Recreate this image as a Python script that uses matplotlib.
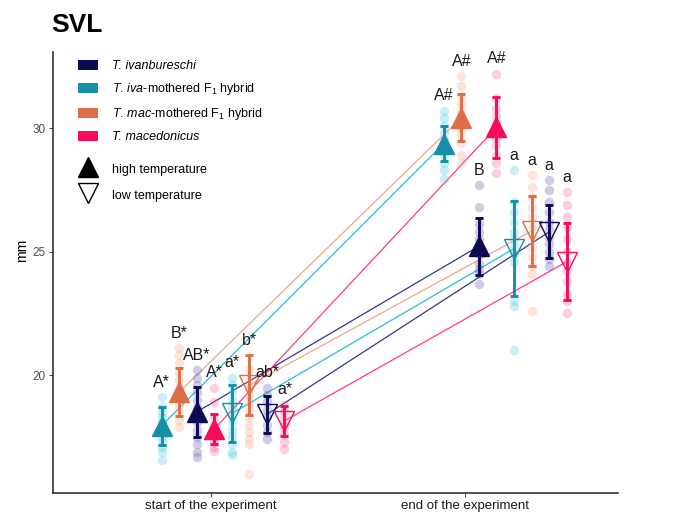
import matplotlib.pyplot as plt
from matplotlib.patches import Patch
from matplotlib.lines import Line2D
import numpy as np

plt.rcParams['font.family'] = ['Liberation Sans', 'DejaVu Sans']
plt.rcParams['mathtext.fontset'] = 'custom'
plt.rcParams['mathtext.rm'] = 'Liberation Sans'
plt.rcParams['mathtext.it'] = 'Liberation Sans:italic'

# grupos en el orden en que se dibujan dentro de cada momento
group_species = ["iva_hyb", "mac_hyb", "ivan", "mace", "iva_hyb", "mac_hyb", "ivan", "mace"]
group_temp = ["high", "high", "high", "high", "low", "low", "low", "low"]

mean_start = [17.95, 19.31, 18.51, 17.82, 18.45, 19.59, 18.41, 18.15]
sd_start = [0.78, 0.96, 1.01, 0.59, 1.15, 1.22, 0.74, 0.61]
mean_end = [29.37, 30.42, 25.22, 30.03, 25.12, 25.83, 25.80, 24.59]
sd_end = [0.70, 0.95, 1.16, 1.23, 1.91, 1.43, 1.07, 1.55]

letters_start = ["A*", "B*", "AB*", "A*", "a*", "b*", "ab*", "a*"]
letters_end = ["A#", "A#", "B", "A#", "a", "a", "a", "a"]

points_start = [
    [19.1, 18.7, 18.5, 18.3, 18.1, 17.9, 17.7, 17.5, 17.3, 17.1, 16.9, 16.55],
    [21.1, 20.8, 20.5, 20.1, 19.8, 19.5, 19.2, 18.8, 18.5, 18.2, 17.9],
    [20.2, 19.9, 19.6, 19.3, 19.0, 18.7, 18.4, 18.1, 17.8, 17.5, 17.2, 16.9, 16.7],
    [19.5, 18.9, 18.3, 18.0, 17.7, 17.5, 17.3, 17.1, 16.95],
    [19.9, 19.6, 19.3, 19.0, 18.7, 18.4, 18.1, 17.8, 17.5, 17.2, 16.9, 16.75],
    [20.2, 19.8, 19.5, 19.2, 18.9, 18.6, 18.3, 18.0, 17.7, 17.4, 17.2, 16.0],
    [19.5, 19.2, 18.9, 18.6, 18.3, 18.0, 17.7, 17.4],
    [18.8, 18.5, 18.2, 17.9, 17.6, 17.3, 17.0],
]
points_end = [
    [30.7, 30.4, 30.1, 29.8, 29.5, 29.2, 28.9, 28.6, 28.3, 27.95],
    [32.1, 31.7, 31.3, 31.0, 30.7, 30.4, 30.1, 29.8, 29.4, 28.9, 28.6],
    [27.7, 26.8, 26.1, 25.8, 25.5, 25.2, 24.9, 24.5, 24.3, 24.1, 23.7],
    [32.2, 31.2, 30.8, 30.5, 30.2, 29.9, 29.6, 29.3, 28.9, 28.6, 28.2],
    [28.3, 27.0, 26.6, 26.2, 25.8, 25.5, 25.2, 24.9, 24.6, 23.0, 22.8, 21.0],
    [28.1, 27.6, 27.2, 26.8, 26.4, 26.0, 25.6, 25.2, 24.8, 24.4, 24.1, 22.6],
    [27.9, 27.5, 27.0, 26.6, 26.2, 25.9, 25.6, 25.3, 25.0, 24.7, 24.4],
    [27.4, 26.9, 26.4, 26.0, 25.5, 25.0, 24.6, 24.2, 23.8, 23.3, 23.0, 22.5],
]

time_labels = ["start of the experiment", "end of the experiment"]

species_order = ["ivan", "iva_hyb", "mac_hyb", "mace"]
species_labels = ["T. ivanbureschi",
                  r"$\mathit{T.\,iva}$-mothered F$_1$ hybrid",
                  r"$\mathit{T.\,mac}$-mothered F$_1$ hybrid",
                  "T. macedonicus"]
italic_labels = [0, 3]

# colores: media / lineas de union / puntos individuales
col_main = {"ivan": "#0B0A52", "iva_hyb": "#1690A8", "mac_hyb": "#DE6E48", "mace": "#FA0A5C"}
col_line = {"ivan": "#35358F", "iva_hyb": "#2BBCD2", "mac_hyb": "#F5A486", "mace": "#FF3A7C"}
col_pts = {"ivan": "#5A5AAE", "iva_hyb": "#4CCDE2", "mac_hyb": "#FBA689", "mace": "#FF5C97"}

fig = plt.figure(figsize=(6.8, 5.17), dpi=100)
ax = fig.add_axes([53 / 680, 24 / 517, 565 / 680, 441 / 517])

dodge = 0.069
shift = [0.048, 0.157]
n = len(group_species)

def xpos(t, i):
    return (t + 1) + shift[t] + (i - (n - 1) / 2) * dodge

# lineas entre inicio y final
for i in range(n):
    sp = group_species[i]
    ax.plot([xpos(0, i), xpos(1, i)], [mean_start[i], mean_end[i]],
            color=col_line[sp], lw=0.9, zorder=1)

for t, (means, sds, pts, letters) in enumerate([
        (mean_start, sd_start, points_start, letters_start),
        (mean_end, sd_end, points_end, letters_end)]):
    for i in range(n):
        sp = group_species[i]
        x = xpos(t, i)
        ax.plot([x] * len(pts[i]), pts[i], 'o', ms=6.8, color=col_pts[sp],
                alpha=0.3, mec='none', zorder=2)
        ax.errorbar(x, means[i], yerr=sds[i], fmt='none', ecolor=col_main[sp],
                    elinewidth=2.1, capsize=2.7, capthick=2.1, zorder=3)
        if group_temp[i] == "high":
            ax.plot(x, means[i], '^', ms=14.5, color=col_main[sp], mec=col_main[sp], zorder=4)
        else:
            ax.plot(x, means[i], 'v', ms=14.5, mfc='none', mec=col_main[sp], mew=1.0, zorder=4)
        top = max(max(pts[i]), means[i] + sds[i])
        ax.text(x, top + 0.3, letters[i], ha='center', va='bottom', fontsize=11.5,
                color='#1A1A1A', zorder=5)

ax.set_xlim(0.38, 2.6)
ax.set_ylim(15.23, 33.08)
ax.set_xticks([1, 2])
ax.set_xticklabels(time_labels, fontsize=9.5, color='#1A1A1A')
ax.set_yticks([20, 25, 30])
ax.set_yticklabels(["20", "25", "30"], fontsize=8.5, color='#4D4D4D')
ax.tick_params(axis='both', length=3, width=0.8, color='#4D4D4D', pad=2)
for s in ['top', 'right']:
    ax.spines[s].set_visible(False)
for s in ['left', 'bottom']:
    ax.spines[s].set_color('#333333')
    ax.spines[s].set_linewidth(1.2)

fig.text(51 / 680, 1 - 25 / 517, "SVL", fontsize=19, fontweight='bold', va='center', ha='left')
fig.text(22 / 680, 1 - 250 / 517, "mm", fontsize=10, rotation=90, va='center', ha='center')

# leyenda: especies y temperatura
sp_handles = [Patch(facecolor=col_main[s], edgecolor='none') for s in species_order]
leg1 = ax.legend(sp_handles, species_labels, loc='upper left', bbox_to_anchor=(0.035, 0.994),
                 frameon=False, fontsize=9, handlelength=1.6, handleheight=0.85,
                 labelspacing=0.72, handletextpad=1.1, borderaxespad=0)
for k in italic_labels:
    leg1.get_texts()[k].set_fontstyle('italic')
ax.add_artist(leg1)
temp_handles = [Line2D([], [], marker='^', ls='none', ms=14.5, color='black'),
                Line2D([], [], marker='v', ls='none', ms=14.5, mfc='none', mec='black', mew=1.0)]
ax.legend(temp_handles, ["high temperature", "low temperature"], loc='upper left',
          bbox_to_anchor=(0.035, 0.762), frameon=False, fontsize=9, handlelength=1.6,
          handleheight=1.3, labelspacing=0.95, handletextpad=1.1, borderaxespad=0)

fig.savefig("out.png", dpi=100)
